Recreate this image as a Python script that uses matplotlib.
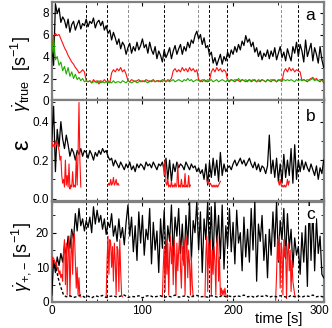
import numpy as np
import matplotlib
matplotlib.use("Agg")
import matplotlib.pyplot as plt
from matplotlib.ticker import MultipleLocator

plt.rcParams['font.family'] = ['Liberation Sans', 'DejaVu Sans']
plt.rcParams['mathtext.fontset'] = 'custom'
plt.rcParams['mathtext.rm'] = 'Liberation Sans'
plt.rcParams['mathtext.it'] = 'Liberation Sans:italic'

# ---- data ----
# panel a, sampled every 2 s from 0 to 300 s
rate_true_black = [
    5.0, 3.2, 8.8, 7.9, 8.4, 7.1, 7.6, 7.3, 6.6, 7.4,
    6.2, 6.9, 7.2, 6.4, 6.9, 7.3, 6.5, 7.0, 6.8, 7.4,
    6.7, 7.2, 7.0, 7.5, 6.6, 7.1, 7.3, 6.8, 7.2, 6.4,
    6.8, 6.1, 6.4, 5.5, 6.2, 5.7, 5.1, 5.6, 4.7, 5.3,
    5.0, 4.2, 4.8, 5.2, 4.3, 4.9, 4.5, 5.3, 4.6, 5.0,
    5.6, 4.8, 5.1, 4.3, 5.3, 4.6, 4.2, 4.9, 3.8, 4.5,
    4.1, 3.5, 4.6, 3.9, 4.3, 4.8, 3.8, 4.5, 5.0, 4.2,
    4.7, 5.1, 4.2, 4.9, 4.5, 5.3, 4.8, 5.5, 5.2, 5.9,
    6.3, 5.6, 6.0, 5.1, 5.7, 4.8, 5.0, 4.1, 4.4, 3.4,
    3.9, 3.2, 3.7, 4.2, 3.3, 4.0, 3.6, 4.4, 3.9, 4.6,
    4.2, 4.9, 4.4, 5.1, 4.6, 5.4, 5.0, 5.9, 5.3, 5.6,
    4.9, 5.3, 4.4, 4.8, 4.0, 4.5, 3.7, 4.3, 4.0, 4.6,
    3.8, 4.5, 4.0, 4.8, 3.7, 4.3, 4.9, 3.9, 4.4, 3.6,
    4.7, 4.1, 3.6, 4.9, 4.3, 5.3, 4.0, 5.1, 4.5, 3.5,
    5.5, 4.0, 4.6, 5.2, 3.6, 4.8, 4.2, 3.4, 4.9, 3.7,
    3.0]
rate_true_red = [
    4.5, 5.8, 6.1, 5.9, 6.0, 5.6, 5.2, 4.8, 4.5, 4.1,
    3.8, 3.5, 3.3, 3.0, 2.8, 2.5, 2.6, 2.8, 2.6, 1.8,
    1.7, 1.8, 1.6, 1.9, 1.7, 1.8, 1.5, 1.8, 1.7, 1.9,
    1.7, 1.8, 1.6, 2.5, 2.8, 2.6, 2.9, 2.7, 3.0, 2.6,
    2.8, 2.4, 1.8, 1.7, 1.9, 1.8, 1.7, 1.8, 1.9, 1.7,
    1.8, 1.7, 1.9, 1.8, 1.7, 1.8, 1.9, 1.7, 1.8, 1.8,
    1.7, 1.9, 1.8, 1.7, 1.9, 1.8, 2.0, 2.7, 2.9, 2.6,
    2.8, 2.6, 3.0, 2.7, 2.9, 2.6, 3.0, 2.7, 2.9, 2.6,
    2.8, 1.9, 1.8, 1.7, 1.9, 1.8, 1.7, 1.8, 2.6, 2.9,
    2.6, 3.0, 2.7, 2.9, 2.6, 2.8, 2.6, 1.8, 1.7, 1.9,
    1.8, 1.7, 1.9, 1.8, 1.7, 1.9, 1.8, 1.7, 1.8, 1.9,
    1.7, 1.8, 1.9, 1.7, 1.8, 1.7, 1.9, 1.8, 1.7, 1.9,
    1.8, 1.7, 1.9, 1.8, 1.7, 1.9, 1.8, 1.7, 2.6, 2.9,
    2.6, 3.0, 2.7, 2.9, 2.6, 2.8, 2.7, 2.6, 1.8, 1.9,
    1.8, 1.7, 1.9, 2.0, 2.1, 1.9, 2.0, 1.8, 1.7, 1.9,
    1.6]
rate_true_green = [
    4.2, 5.8, 3.7, 4.0, 3.2, 3.5, 2.7, 3.1, 2.4, 3.0,
    2.2, 2.6, 2.0, 2.4, 1.9, 2.1, 1.8, 2.0, 1.7, 1.8,
    1.7, 1.8, 1.6, 1.7, 1.7, 1.6, 1.8, 1.6, 1.7, 1.6,
    1.7, 1.6, 1.7, 1.6, 1.8, 1.6, 1.7, 1.7, 1.6, 1.8,
    1.7, 1.6, 1.8, 1.7, 1.6, 1.7, 1.8, 1.6, 1.7, 1.8,
    1.7, 1.8, 1.7, 1.6, 1.8, 1.7, 1.8, 1.7, 1.8, 1.7,
    1.8, 1.7, 1.9, 1.7, 1.8, 1.7, 1.8, 1.9, 1.7, 1.8,
    1.9, 1.8, 1.7, 1.9, 1.8, 2.0, 1.8, 1.9, 1.7, 1.8,
    1.9, 1.8, 1.7, 1.9, 1.8, 1.7, 1.9, 1.8, 1.9, 1.7,
    1.8, 1.9, 1.7, 1.8, 1.9, 1.8, 1.7, 1.9, 1.8, 1.9,
    1.8, 1.9, 1.8, 2.0, 1.8, 1.9, 1.8, 1.9, 1.7, 1.9,
    1.8, 1.9, 1.8, 1.7, 1.9, 1.8, 1.9, 1.8, 1.7, 1.9,
    1.8, 1.9, 1.8, 1.9, 1.7, 1.8, 1.9, 1.8, 1.9, 1.8,
    1.9, 1.8, 1.9, 1.8, 1.7, 1.9, 1.8, 1.9, 1.8, 1.9,
    1.8, 1.9, 1.8, 1.9, 2.0, 1.8, 1.9, 1.8, 1.9, 1.8,
    1.8]

# panel b, black every 2 s
eps_black = [
    0.30, 0.48, 0.14, 0.36, 0.27, 0.40, 0.31, 0.26, 0.33, 0.28,
    0.22, 0.26, 0.24, 0.20, 0.25, 0.23, 0.26, 0.22, 0.25, 0.24,
    0.21, 0.25, 0.23, 0.20, 0.24, 0.22, 0.25, 0.23, 0.26, 0.24,
    0.25, 0.22, 0.20, 0.21, 0.17, 0.20, 0.18, 0.16, 0.19, 0.17,
    0.15, 0.18, 0.16, 0.19, 0.15, 0.17, 0.14, 0.18, 0.16, 0.18,
    0.17, 0.15, 0.19, 0.17, 0.18, 0.16, 0.19, 0.17, 0.15, 0.18,
    0.17, 0.19, 0.15, 0.21, 0.10, 0.20, 0.09, 0.18, 0.14, 0.19,
    0.16, 0.18, 0.17, 0.15, 0.19, 0.17, 0.15, 0.18, 0.16, 0.17,
    0.14, 0.16, 0.13, 0.15, 0.10, 0.18, 0.07, 0.19, 0.11, 0.21,
    0.12, 0.20, 0.09, 0.24, 0.12, 0.18, 0.14, 0.16, 0.17, 0.15,
    0.18, 0.20, 0.17, 0.19, 0.21, 0.18, 0.20, 0.17, 0.19, 0.21,
    0.18, 0.16, 0.19, 0.15, 0.18, 0.14, 0.17, 0.16, 0.13, 0.17,
    0.33, 0.13, 0.20, 0.11, 0.21, 0.09, 0.18, 0.08, 0.23, 0.11,
    0.20, 0.12, 0.26, 0.08, 0.28, 0.10, 0.20, 0.14, 0.20, 0.15,
    0.19, 0.16, 0.14, 0.18, 0.15, 0.12, 0.17, 0.10, 0.16, 0.13,
    0.20]
# panel b, red segments (time in s, value), nan = gap
eps_red_t = [0, 1, 2, 3, 4, 5, 6, 7, 8, 9, 10, 11, 12, 13, 14, 15, 16, 17,
             18, 19, 20, 21, 22, 23, 24, 25, 26, 27, 28, 29, 30, 31, 32, 33,
             62, 63, 64, 65, 66, 67, 68, 69, 70, 71, 72, 73, 74, 75,
             123, 124, 125, 126, 127, 128, 129, 130, 131, 132, 133, 134, 135,
             136, 137, 138, 139, 140, 141, 142, 143, 144, 145, 146, 147, 148,
             149, 150, 151, 152, 153, 154,
             171, 172, 173, 174, 175, 176, 177, 178, 179, 180, 181, 182, 183,
             184, 185, 186, 187,
             250, 251, 252, 253, 254, 255, 256, 257, 258, 259, 260, 261, 262]
eps_red = [0.30, 0.27, 0.28, 0.27, 0.30, 0.28, 0.30, 0.27, 0.25, 0.20, 0.22,
           0.12, 0.08, 0.10, 0.06, 0.20, 0.07, 0.12, 0.06, 0.18, 0.05, 0.07,
           0.06, 0.14, 0.06, 0.07, 0.06, 0.22, 0.07, 0.24, 0.50, 0.20, 0.06,
           np.nan,
           0.07, 0.08, 0.07, 0.10, 0.07, 0.08, 0.11, 0.07, 0.08, 0.10, 0.07,
           0.08, 0.07, np.nan,
           0.17, 0.12, 0.20, 0.08, 0.07, 0.10, 0.06, 0.07, 0.06, 0.09, 0.06,
           0.07, 0.06, 0.08, 0.06, 0.07, 0.18, 0.06, 0.07, 0.06, 0.10, 0.06,
           0.07, 0.06, 0.13, 0.06, 0.07, 0.06, 0.12, 0.06, 0.07, np.nan,
           0.10, 0.08, 0.09, 0.07, 0.08, 0.07, 0.06, 0.07, 0.06, 0.07, 0.06,
           0.07, 0.06, 0.07, 0.08, 0.09, np.nan,
           0.09, 0.07, 0.10, 0.07, 0.06, 0.07, 0.06, 0.07, 0.06, 0.07, 0.10,
           0.07, 0.09]

# panel c, black every 2 s
rate_pm_black = [
    2.0, 12.0, 8.5, 13.0, 10.5, 14.0, 11.5, 16.0, 13.5, 19.0,
    15.5, 21.0, 18.0, 25.5, 20.5, 27.0, 22.0, 24.0, 20.5, 23.5,
    21.5, 24.5, 20.0, 27.5, 22.5, 26.5, 23.0, 25.0, 21.0, 24.0,
    19.5, 23.0, 21.5, 25.5, 19.0, 22.0, 17.5, 24.0, 18.5, 21.5,
    16.5, 23.0, 28.0, 19.0, 24.5, 14.5, 22.0, 12.0, 26.0, 17.0,
    25.0, 13.5, 21.0, 18.0, 27.0, 11.0, 23.0, 15.0, 20.5, 8.5,
    24.0, 15.5, 26.5, 12.0, 22.0, 17.5, 28.0, 13.0, 24.5, 19.0,
    27.0, 14.0, 22.5, 10.5, 25.0, 16.5, 29.0, 12.0, 23.5, 20.0,
    29.0, 15.0, 26.0, 8.5, 24.0, 18.0, 29.0, 14.0, 27.5, 11.0,
    29.0, 17.0, 25.0, 12.5, 28.0, 9.5, 22.0, 16.0, 27.0, 14.5,
    23.0, 11.0, 26.5, 17.0, 20.0, 9.0, 24.5, 13.0, 21.0, 11.5,
    27.0, 15.0, 29.0, 6.0, 22.5, 17.5, 25.0, 12.0, 19.5, 7.0,
    21.0, 13.5, 26.0, 16.0, 29.0, 11.5, 23.5, 18.0, 27.0, 12.5,
    25.5, 15.5, 21.0, 10.0, 18.5, 13.5, 16.0, 8.0, 20.0, 11.5,
    22.0, 4.5, 29.0, 12.0, 27.0, 9.0, 24.0, 14.0, 19.0, 8.0,
    7.0]
rate_pm_red_t = [0, 1, 2, 3, 4, 5, 6, 7, 8, 9, 10, 11, 12, 13, 14, 15, 16, 17,
                 18, 19, 20, 21, 22, 23, 24, 25, 26, 27, 28, 29, 30, 31, 32, 33,
                 60, 61, 62, 63, 64, 65, 66, 67, 68, 69, 70, 71, 72, 73, 74,
                 75, 76, 77, 78, 79,
                 122, 123, 124, 125, 126, 127, 128, 129, 130, 131, 132, 133,
                 134, 135, 136, 137, 138, 139, 140, 141, 142, 143, 144, 145,
                 146, 147, 148, 149, 150, 151, 152, 153, 154, 155, 156, 157,
                 169, 170, 171, 172, 173, 174, 175, 176, 177, 178, 179, 180,
                 181, 182, 183, 184, 185, 186, 187, 188, 189, 190, 191, 192,
                 193, 194,
                 247, 248, 249, 250, 251, 252, 253, 254, 255, 256, 257, 258,
                 259, 260, 261, 262, 263, 264, 265, 266, 267, 268, 269, 270]
rate_pm_red = [10, 13, 12.5, 12, 11, 11.5, 9.5, 10, 8, 9, 7, 8, 6, 15, 18, 5,
               17, 2, 14, 19, 1.5, 13, 20, 8, 18, 19.5, 12, 4, 10, 2, 7, 1.5,
               1.5, np.nan,
               1.5, 12, 19, 8, 18, 17, 10, 16, 6, 17, 12, 2, 16, 15, 3, 18, 9,
               2, 1.5, np.nan,
               1.5, 10, 16, 3, 18, 8, 17, 2, 14, 19, 11, 16, 5, 18, 13, 2, 17,
               9, 15, 19, 10, 4, 16, 12, 18, 2, 14, 19, 7, 15, 11, 2, 13, 5,
               1.5, np.nan,
               1.5, 14, 19, 3, 17, 10, 18, 2, 15, 8, 16, 12, 2, 17, 19, 6, 13,
               2, 4, 2, 3.5, 2, 4, 2, 1.5, np.nan,
               0.5, 8, 18, 12, 19, 4, 17, 15, 2, 18, 13, 16, 1, 14, 17, 9, 15,
               3, 12, 6, 4, 2, 1.5, np.nan]
# dashed baseline: first points irregular, then every 4 s from 16 s
dash_t_start = [3, 5, 7, 9, 11, 13]
dash_start = [11.0, 9.5, 7.0, 5.0, 3.5, 2.0]
dash_tail = [
    1.5, 1.8, 1.3, 1.6, 2.0, 1.4, 1.7, 1.2, 1.8, 1.5,
    1.9, 1.3, 1.6, 1.8, 1.4, 1.7, 2.0, 1.3, 1.6, 1.5,
    1.8, 1.2, 1.7, 1.9, 1.4, 1.6, 1.8, 1.3, 1.7, 1.5,
    2.0, 1.4, 1.6, 1.8, 1.3, 1.7, 1.9, 1.5, 1.6, 1.4,
    1.8, 1.6, 1.3, 1.9, 1.5, 1.7, 1.4, 1.8, 1.6, 2.0,
    1.5, 1.7, 1.3, 1.8, 1.6, 1.9, 1.4, 1.7, 1.5, 1.8,
    1.6, 1.3, 1.9, 1.5, 1.7, 1.4, 1.8, 1.6, 2.0, 1.5,
    1.7, 1.4]

# vertical event markers (s); the grey ones are drawn lighter
event_times = [37.6, 61, 84, 124, 161, 174, 193, 253, 272]
grey_events = [84, 161, 253]

x_ticks = [0, 100, 200, 300]

t2 = 2 * np.arange(len(rate_true_black))
dash_t = dash_t_start + list(16 + 4 * np.arange(len(dash_tail)))
dash_v = dash_start + dash_tail

# ---- figure ----
fig = plt.figure(figsize=(3.32, 3.28), dpi=100)
left, width = 0.156, 0.819
ax_a = fig.add_axes([left, 0.6936, width, 0.3018])
ax_b = fig.add_axes([left, 0.3887, width, 0.3049])
ax_c = fig.add_axes([left, 0.0793, width, 0.3063])
axes = [ax_a, ax_b, ax_c]

lw = 0.8
ax_a.plot(t2, rate_true_black, color='black', lw=0.9, zorder=3)
ax_a.plot(t2, rate_true_red, color='#ff1010', lw=lw, zorder=4)
ax_a.plot(t2, rate_true_green, color='#22aa00', lw=lw, zorder=5)

ax_b.plot(t2, eps_black, color='black', lw=0.9, zorder=3)
ax_b.plot(eps_red_t, eps_red, color='#ff1010', lw=lw, zorder=4)

ax_c.plot(t2, rate_pm_black, color='black', lw=0.9, zorder=3)
ax_c.plot(rate_pm_red_t, rate_pm_red, color='#ff1010', lw=lw, zorder=4)
ax_c.plot(dash_t, dash_v, color='black', lw=1.0, ls=(0, (2, 1.5)), zorder=5)

ax_a.set_ylim(0, 9)
ax_b.set_ylim(-0.01, 0.51)
ax_c.set_ylim(0, 29)

ax_a.yaxis.set_major_locator(MultipleLocator(2))
ax_a.yaxis.set_minor_locator(MultipleLocator(1))
ax_b.yaxis.set_major_locator(MultipleLocator(0.2))
ax_b.yaxis.set_minor_locator(MultipleLocator(0.1))
ax_c.yaxis.set_major_locator(MultipleLocator(10))
ax_c.yaxis.set_minor_locator(MultipleLocator(5))
ax_b.yaxis.set_major_formatter(plt.FormatStrFormatter('%.1f'))

for ax in axes:
    ax.set_xlim(0, 300)
    ax.set_xticks(x_ticks)
    ax.xaxis.set_minor_locator(MultipleLocator(50))
    ax.tick_params(which='both', direction='in', top=True, right=True,
                   labelsize=8.5, pad=2)
    ax.tick_params(which='major', length=3, width=0.8)
    ax.tick_params(which='minor', length=2, width=0.6)
    for s in ax.spines.values():
        s.set_color('0.5')
        s.set_linewidth(1.6)
    for et in event_times:
        col = '0.55' if et in grey_events else 'black'
        ax.axvline(et, color=col, lw=0.7, ls=(0, (3, 2)), zorder=2)
    if ax is not ax_c:
        ax.tick_params(labelbottom=False)

# last x tick label is nudged left so it stays inside the canvas
ax_c.set_xticklabels([str(v) for v in x_ticks[:-1]] + [''])
ax_c.annotate(str(x_ticks[-1]), xy=(x_ticks[-1], 0),
              xycoords=('data', 'axes fraction'), xytext=(-3, -2),
              textcoords='offset points', ha='center', va='top', fontsize=8.5)

ax_a.set_ylabel(r'$\dot{\gamma}_{\mathrm{true}}$  [s$^{-1}$]', fontsize=13)
ax_a.yaxis.set_label_coords(-0.07, 0.27)
ax_b.set_ylabel('ε', fontsize=17)
ax_b.yaxis.set_label_coords(-0.07, 0.56)
ax_c.set_ylabel(r'$\dot{\gamma}_{{+},{-}}$ [s$^{-1}$]', fontsize=13)
ax_c.yaxis.set_label_coords(-0.07, 0.45)
ax_c.set_xlabel('time [s]', fontsize=10.5, labelpad=0)
ax_c.xaxis.set_label_coords(0.835, -0.10)

for ax, letter, y in [(ax_a, 'a', 0.86), (ax_b, 'b', 0.845), (ax_c, 'c', 0.87)]:
    ax.text(0.951, y, letter, transform=ax.transAxes, fontsize=12.5,
            ha='center', va='center', zorder=10,
            bbox=dict(facecolor='white', edgecolor='none', pad=1.0))

fig.savefig('out.png', dpi=100)
